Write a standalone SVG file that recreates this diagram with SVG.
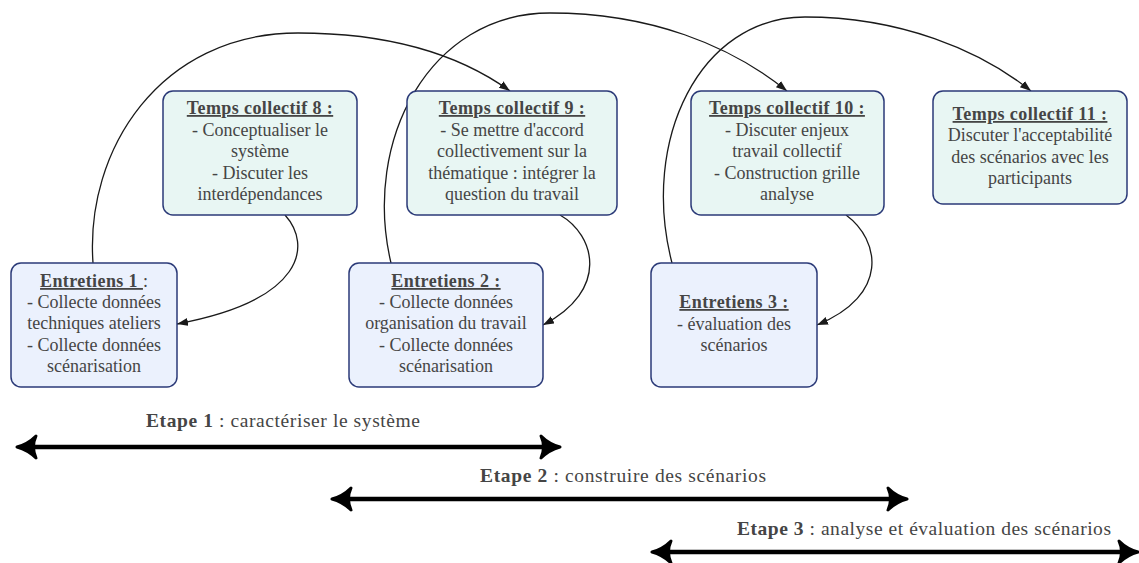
<svg xmlns="http://www.w3.org/2000/svg" width="1139" height="563" viewBox="0 0 1139 563">
<style>
text{font-family:"Liberation Serif","Times New Roman",serif;font-size:18px;fill:#454545;text-anchor:middle}
.t{font-weight:bold;text-decoration:underline;letter-spacing:0.4px}
.b{font-weight:bold}
.tc{fill:#e8f6f3;stroke:#2b3a78;stroke-width:1.5}
.en{fill:#ebf1fd;stroke:#2b3a78;stroke-width:1.5}
.c{fill:none;stroke:#1a1a1a;stroke-width:1.3}
.bar{stroke:#000;stroke-width:4.5;fill:none}
.ah{fill:#000;stroke:#000;stroke-width:3;stroke-linejoin:round}
.l{text-anchor:start;font-size:19.5px}
</style>
<defs>
<marker id="arr" markerWidth="12" markerHeight="10" refX="11" refY="4" orient="auto" markerUnits="userSpaceOnUse">
<path d="M0,0 L11,4 L0,8 Z" fill="#1a1a1a"/>
</marker>
</defs>
<rect width="1139" height="563" fill="#fff"/>
<g id="connectors">
<path class="c" d="M93,263 C85,150 160,33 298,33 C390,33 460,55 510,91" marker-end="url(#arr)"/>
<path class="c" d="M391,263 C362,140 430,13 550,13 C650,13 730,45 787,91" marker-end="url(#arr)"/>
<path class="c" d="M672,263 C640,140 700,17 805,17 C900,17 980,50 1031,91" marker-end="url(#arr)"/>
<path class="c" d="M285,215 C312,245 305,300 177,324" marker-end="url(#arr)"/>
<path class="c" d="M560,215 C595,235 610,290 543,325" marker-end="url(#arr)"/>
<path class="c" d="M846,215 C880,240 890,295 817,325" marker-end="url(#arr)"/>
</g>
<g id="tc8">
<rect class="tc" x="163" y="91" width="194" height="124" rx="10"/>
<text x="260" y="114" class="t">Temps collectif  8 :</text>
<text x="260" y="136">- Conceptualiser le</text>
<text x="260" y="157">système</text>
<text x="260" y="179">- Discuter les</text>
<text x="260" y="200">interdépendances</text>
</g>
<g id="tc9">
<rect class="tc" x="407" y="91" width="210" height="124" rx="10"/>
<text x="512" y="114" class="t">Temps collectif 9 :</text>
<text x="512" y="136">- Se mettre d'accord</text>
<text x="512" y="157">collectivement sur la</text>
<text x="512" y="179">thématique : intégrer la</text>
<text x="512" y="200">question du travail</text>
</g>
<g id="tc10">
<rect class="tc" x="691" y="91" width="193" height="124" rx="10"/>
<text x="787" y="114" class="t">Temps collectif 10 :</text>
<text x="787" y="136">- Discuter enjeux</text>
<text x="787" y="157">travail collectif</text>
<text x="787" y="179">- Construction grille</text>
<text x="787" y="200">analyse</text>
</g>
<g id="tc11">
<rect class="tc" x="933" y="91" width="194" height="113" rx="10"/>
<text x="1030" y="120" class="t">Temps collectif 11 :</text>
<text x="1030" y="141">Discuter l'acceptabilité</text>
<text x="1030" y="163">des scénarios avec les</text>
<text x="1030" y="184">participants</text>
</g>
<g id="e1">
<rect class="en" x="11" y="263" width="166" height="124" rx="10"/>
<text x="94" y="287"><tspan class="t">Entretiens 1 </tspan><tspan> :</tspan></text>
<text x="94" y="308">- Collecte données</text>
<text x="94" y="329">techniques ateliers</text>
<text x="94" y="351">- Collecte données</text>
<text x="94" y="372">scénarisation</text>
</g>
<g id="e2">
<rect class="en" x="349" y="263" width="194" height="124" rx="10"/>
<text x="446" y="287" class="t">Entretiens 2 :</text>
<text x="446" y="308">- Collecte données</text>
<text x="446" y="329">organisation du travail</text>
<text x="446" y="351">- Collecte données</text>
<text x="446" y="372">scénarisation</text>
</g>
<g id="e3">
<rect class="en" x="651" y="263" width="166" height="124" rx="10"/>
<text x="734" y="308" class="t">Entretiens 3 :</text>
<text x="734" y="330">- évaluation des</text>
<text x="734" y="351">scénarios</text>
</g>
<g id="timeline">
<text x="146" y="427" class="l" textLength="274" lengthAdjust="spacing"><tspan class="b">Etape 1</tspan> : caractériser le système</text>
<line class="bar" x1="24" y1="447" x2="553" y2="447"/>
<path class="ah" d="M17,447 Q28,444 36,436 Q31,447 36,458 Q28,450 17,447 Z"/>
<path class="ah" d="M560,447 Q549,444 541,436 Q546,447 541,458 Q549,450 560,447 Z"/>
<text x="480" y="482" class="l" textLength="286" lengthAdjust="spacing"><tspan class="b">Etape 2</tspan> : construire des scénarios</text>
<line class="bar" x1="339" y1="499" x2="900" y2="499"/>
<path class="ah" d="M332,499 Q343,496 351,488 Q346,499 351,510 Q343,502 332,499 Z"/>
<path class="ah" d="M907,499 Q896,496 888,488 Q893,499 888,510 Q896,502 907,499 Z"/>
<text x="737" y="535" class="l" textLength="374" lengthAdjust="spacing"><tspan class="b">Etape 3</tspan> : analyse et évaluation des scénarios</text>
<line class="bar" x1="659" y1="552" x2="1132" y2="552"/>
<path class="ah" d="M652,552 Q663,549 671,541 Q666,552 671,563 Q663,555 652,552 Z"/>
<path class="ah" d="M1138,552 Q1127,549 1119,541 Q1124,552 1119,563 Q1127,555 1138,552 Z"/>
</g>
</svg>
